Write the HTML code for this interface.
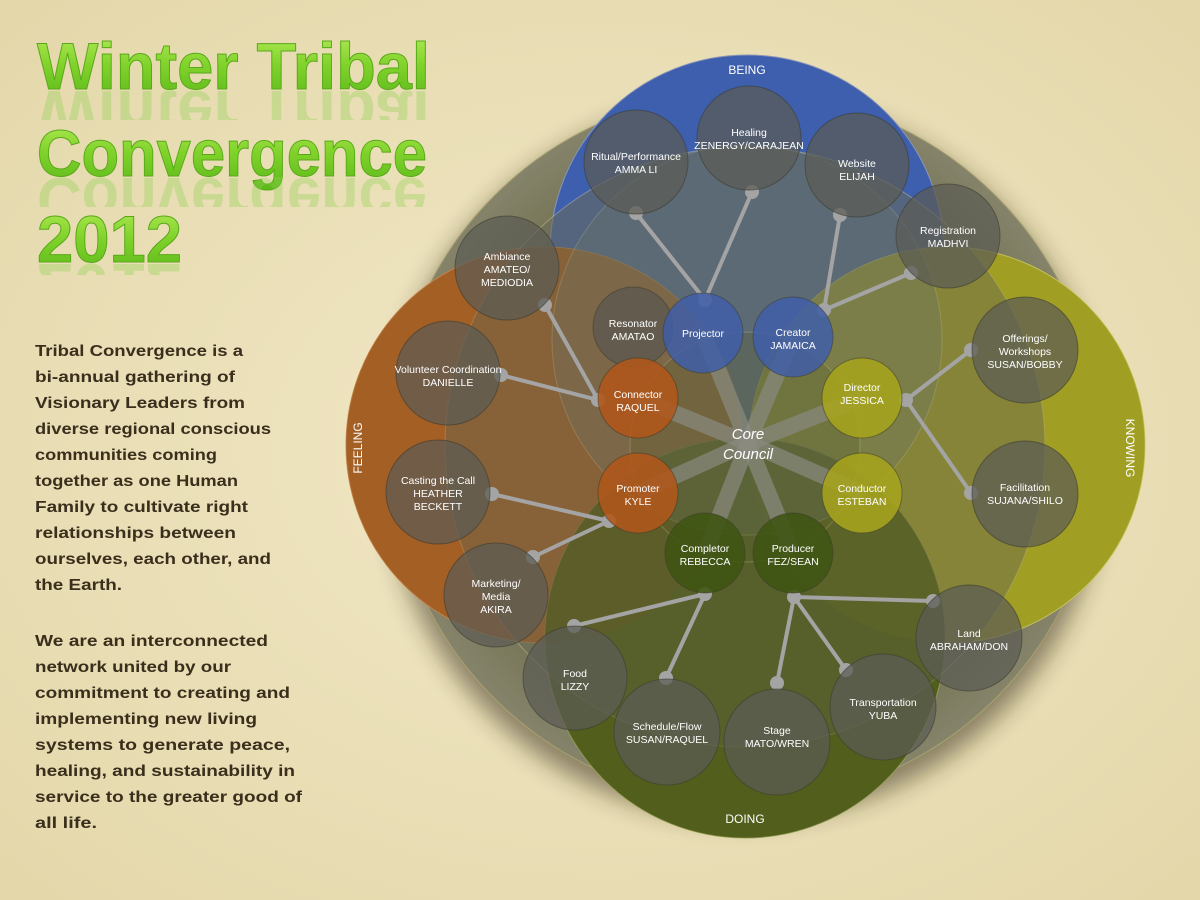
<!DOCTYPE html>
<html><head><meta charset="utf-8"><style>
html,body{margin:0;padding:0;width:1200px;height:900px;overflow:hidden;background:#ebe0b8}
svg{display:block}
</style></head><body>
<svg width="1200" height="900" viewBox="0 0 1200 900" xmlns="http://www.w3.org/2000/svg" font-family="'Liberation Sans', sans-serif">
<defs>
<radialGradient id="bg" cx="0.5" cy="0.5" r="0.75"><stop offset="0" stop-color="#f1e8c6"/><stop offset="1" stop-color="#e3d6a8"/></radialGradient>
<linearGradient id="tg" x1="0" y1="0" x2="0" y2="1"><stop offset="0" stop-color="#b6ec5a"/><stop offset="0.5" stop-color="#7fd22a"/><stop offset="1" stop-color="#5cb81a"/></linearGradient>
<filter id="sh" x="-20%" y="-20%" width="140%" height="140%"><feGaussianBlur stdDeviation="12"/></filter>
<radialGradient id="outer" cx="0.5" cy="0.5" r="0.5"><stop offset="0.7" stop-color="#6e6d4a"/><stop offset="1" stop-color="#85836a"/></radialGradient>
<linearGradient id="fade" x1="0" y1="0" x2="0" y2="1"><stop offset="0" stop-color="#fff" stop-opacity="0"/><stop offset="0.6" stop-color="#fff" stop-opacity="0"/><stop offset="1" stop-color="#fff" stop-opacity="0.5"/></linearGradient>
<mask id="m1"><rect x="0" y="90" width="450" height="30" fill="#fff" opacity="0.35"/><rect x="0" y="177" width="450" height="30" fill="#fff" opacity="0.35"/><rect x="0" y="263" width="450" height="12" fill="#fff" opacity="0.35"/></mask>
</defs>
<rect width="1200" height="900" fill="url(#bg)"/>

<!-- title -->
<g font-weight="bold" font-size="66" fill="url(#tg)" stroke="#5aa81a" stroke-width="1">
<text x="37" y="89" textLength="393" lengthAdjust="spacingAndGlyphs">Winter Tribal</text>
<text x="37" y="176" textLength="390" lengthAdjust="spacingAndGlyphs">Convergence</text>
<text x="37" y="262" textLength="145" lengthAdjust="spacingAndGlyphs">2012</text>
</g>
<g font-weight="bold" font-size="66" fill="#8fd050" mask="url(#m1)">
<text x="37" y="89" transform="translate(0,180) scale(1,-1)" textLength="393" lengthAdjust="spacingAndGlyphs">Winter Tribal</text>
<text x="37" y="176" transform="translate(0,354) scale(1,-1)" textLength="390" lengthAdjust="spacingAndGlyphs">Convergence</text>
<text x="37" y="262" transform="translate(0,526) scale(1,-1)" textLength="145" lengthAdjust="spacingAndGlyphs">2012</text>
</g>

<!-- paragraph -->
<g font-weight="bold" font-size="16" fill="#3a2e1c" lengthAdjust="spacingAndGlyphs">
<text x="35" y="356" textLength="208" lengthAdjust="spacingAndGlyphs">Tribal Convergence is a</text>
<text x="35" y="382" textLength="200" lengthAdjust="spacingAndGlyphs">bi-annual gathering of</text>
<text x="35" y="408" textLength="210" lengthAdjust="spacingAndGlyphs">Visionary Leaders from</text>
<text x="35" y="434" textLength="236" lengthAdjust="spacingAndGlyphs">diverse regional conscious</text>
<text x="35" y="460" textLength="182" lengthAdjust="spacingAndGlyphs">communities coming</text>
<text x="35" y="486" textLength="203" lengthAdjust="spacingAndGlyphs">together as one Human</text>
<text x="35" y="512" textLength="213" lengthAdjust="spacingAndGlyphs">Family to cultivate right</text>
<text x="35" y="538" textLength="201" lengthAdjust="spacingAndGlyphs">relationships between</text>
<text x="35" y="564" textLength="236" lengthAdjust="spacingAndGlyphs">ourselves, each other, and</text>
<text x="35" y="590" textLength="87" lengthAdjust="spacingAndGlyphs">the Earth.</text>
<text x="35" y="646" textLength="233" lengthAdjust="spacingAndGlyphs">We are an interconnected</text>
<text x="35" y="672" textLength="196" lengthAdjust="spacingAndGlyphs">network united by our</text>
<text x="35" y="698" textLength="255" lengthAdjust="spacingAndGlyphs">commitment to creating and</text>
<text x="35" y="724" textLength="222" lengthAdjust="spacingAndGlyphs">implementing new living</text>
<text x="35" y="750" textLength="255" lengthAdjust="spacingAndGlyphs">systems to generate peace,</text>
<text x="35" y="776" textLength="260" lengthAdjust="spacingAndGlyphs">healing, and sustainability in</text>
<text x="35" y="802" textLength="267" lengthAdjust="spacingAndGlyphs">service to the greater good of</text>
<text x="35" y="828" textLength="62" lengthAdjust="spacingAndGlyphs">all life.</text>
</g>

<!-- shadow -->
<circle cx="745" cy="460" r="360" fill="#2a2410" opacity="0.5" filter="url(#sh)"/>
<!-- outer circle -->
<circle cx="745" cy="447" r="355" fill="url(#outer)" stroke="#a7a070" stroke-width="1"/>

<!-- four domain circles -->
<circle cx="747" cy="252" r="197" fill="#3d5fae" stroke="#8a94b8"/>
<circle cx="544" cy="445" r="198" fill="#c0631e" stroke="#d08a50"/>
<circle cx="947" cy="445" r="198" fill="#b2ae20" stroke="#d0cc60"/>
<circle cx="745" cy="638" r="200" fill="#56631c" stroke="#a0a860"/>

<!-- translucent overlays -->
<circle cx="745" cy="447" r="300" fill="#6a6b58" opacity="0.55" stroke="#bdb88a"/>
<circle cx="544" cy="445" r="198" fill="#7a5a30" opacity="0.4"/>
<circle cx="947" cy="445" r="198" fill="#7a7a30" opacity="0.3"/>
<circle cx="745" cy="638" r="200" fill="#4e5a1a" opacity="0.5"/>
<circle cx="747" cy="340" r="195" fill="#6a7468" opacity="0.35" stroke="#b0ae88"/>
<circle cx="745" cy="447" r="115" fill="#58602a" opacity="0.3" stroke="#bdb070" stroke-width="1.2"/>

<!-- labels -->
<g fill="#fff" font-size="12" text-anchor="middle">
<text x="747" y="74">BEING</text>
<text x="745" y="823">DOING</text>
<text transform="translate(362,448) rotate(-90)">FEELING</text>
<text transform="translate(1126,448) rotate(90)">KNOWING</text>
</g>

<!-- thin connectors -->
<g stroke="#a4a4a4" stroke-width="4" fill="#a4a4a4" stroke-linecap="round">
<line x1="636" y1="213" x2="705" y2="300"/><circle cx="636" cy="213" r="5"/>
<line x1="752" y1="192" x2="705" y2="300"/><circle cx="752" cy="192" r="5"/>
<line x1="840" y1="215" x2="824" y2="310"/><circle cx="840" cy="215" r="5"/>
<line x1="911" y1="273" x2="824" y2="310"/><circle cx="911" cy="273" r="5"/>
<circle cx="705" cy="300" r="5"/><circle cx="824" cy="310" r="5"/>
<line x1="545" y1="305" x2="598" y2="400"/><circle cx="545" cy="305" r="5"/>
<line x1="501" y1="375" x2="598" y2="400"/><circle cx="501" cy="375" r="5"/>
<circle cx="598" cy="400" r="5"/>
<line x1="492" y1="494" x2="609" y2="521"/><circle cx="492" cy="494" r="5"/>
<line x1="533" y1="557" x2="609" y2="521"/><circle cx="533" cy="557" r="5"/>
<circle cx="609" cy="521" r="5"/>
<line x1="574" y1="626" x2="705" y2="594"/><circle cx="574" cy="626" r="5"/>
<line x1="666" y1="678" x2="705" y2="594"/><circle cx="666" cy="678" r="5"/>
<circle cx="705" cy="594" r="5"/>
<line x1="777" y1="683" x2="794" y2="597"/><circle cx="777" cy="683" r="5"/>
<line x1="846" y1="670" x2="794" y2="597"/><circle cx="846" cy="670" r="5"/>
<line x1="933" y1="601" x2="794" y2="597"/><circle cx="933" cy="601" r="5"/>
<circle cx="794" cy="597" r="5"/>
<line x1="971" y1="350" x2="906" y2="400"/><circle cx="971" cy="350" r="5"/>
<line x1="971" y1="493" x2="906" y2="400"/><circle cx="971" cy="493" r="5"/>
<circle cx="906" cy="400" r="5"/>
</g>

<!-- outer nodes -->
<g fill="#5c5c55" fill-opacity="0.72" stroke="#3c3c30" stroke-opacity="0.6">
<circle cx="636" cy="162" r="52"/>
<circle cx="749" cy="138" r="52"/>
<circle cx="857" cy="165" r="52"/>
<circle cx="948" cy="236" r="52"/>
<circle cx="507" cy="268" r="52"/>
<circle cx="448" cy="373" r="52"/>
<circle cx="438" cy="492" r="52"/>
<circle cx="496" cy="595" r="52"/>
<circle cx="575" cy="678" r="52"/>
<circle cx="667" cy="732" r="53"/>
<circle cx="777" cy="742" r="53"/>
<circle cx="883" cy="707" r="53"/>
<circle cx="969" cy="638" r="53"/>
<circle cx="1025" cy="494" r="53"/>
<circle cx="1025" cy="350" r="53"/>
</g>

<!-- spokes -->
<g stroke="#8a8a80" stroke-opacity="0.7" stroke-width="16">
<line x1="748" y1="443" x2="703" y2="333"/>
<line x1="748" y1="443" x2="793" y2="337"/>
<line x1="748" y1="443" x2="862" y2="398"/>
<line x1="748" y1="443" x2="862" y2="493"/>
<line x1="748" y1="443" x2="793" y2="553"/>
<line x1="748" y1="443" x2="705" y2="553"/>
<line x1="748" y1="443" x2="638" y2="493"/>
<line x1="748" y1="443" x2="638" y2="398"/>
</g>

<!-- inner nodes -->
<g stroke="#3a3a2a" stroke-opacity="0.5">
<circle cx="633" cy="327" r="40" fill="#5e5a4e" fill-opacity="0.88"/>
<circle cx="703" cy="333" r="40" fill="#3f5ea8" fill-opacity="0.85"/>
<circle cx="793" cy="337" r="40" fill="#3f5ea8" fill-opacity="0.85"/>
<circle cx="862" cy="398" r="40" fill="#a6a41c" fill-opacity="0.88"/>
<circle cx="862" cy="493" r="40" fill="#a6a41c" fill-opacity="0.88"/>
<circle cx="793" cy="553" r="40" fill="#3f5412" fill-opacity="0.88"/>
<circle cx="705" cy="553" r="40" fill="#3f5412" fill-opacity="0.88"/>
<circle cx="638" cy="493" r="40" fill="#b0561a" fill-opacity="0.88"/>
<circle cx="638" cy="398" r="40" fill="#b0561a" fill-opacity="0.88"/>
</g>

<!-- node text -->
<g fill="#fff" font-size="10.5" text-anchor="middle">
<text x="636" y="160">Ritual/Performance</text><text x="636" y="173">AMMA LI</text>
<text x="749" y="136">Healing</text><text x="749" y="149">ZENERGY/CARAJEAN</text>
<text x="857" y="167">Website</text><text x="857" y="180">ELIJAH</text>
<text x="948" y="234">Registration</text><text x="948" y="247">MADHVI</text>
<text x="507" y="260">Ambiance</text><text x="507" y="273">AMATEO/</text><text x="507" y="286">MEDIODIA</text>
<text x="448" y="373">Volunteer Coordination</text><text x="448" y="386">DANIELLE</text>
<text x="438" y="484">Casting the Call</text><text x="438" y="497">HEATHER</text><text x="438" y="510">BECKETT</text>
<text x="496" y="587">Marketing/</text><text x="496" y="600">Media</text><text x="496" y="613">AKIRA</text>
<text x="575" y="677">Food</text><text x="575" y="690">LIZZY</text>
<text x="667" y="730">Schedule/Flow</text><text x="667" y="743">SUSAN/RAQUEL</text>
<text x="777" y="734">Stage</text><text x="777" y="747">MATO/WREN</text>
<text x="883" y="706">Transportation</text><text x="883" y="719">YUBA</text>
<text x="969" y="637">Land</text><text x="969" y="650">ABRAHAM/DON</text>
<text x="1025" y="491">Facilitation</text><text x="1025" y="504">SUJANA/SHILO</text>
<text x="1025" y="342">Offerings/</text><text x="1025" y="355">Workshops</text><text x="1025" y="368">SUSAN/BOBBY</text>
<text x="633" y="327">Resonator</text><text x="633" y="340">AMATAO</text>
<text x="703" y="337">Projector</text>
<text x="793" y="336">Creator</text><text x="793" y="349">JAMAICA</text>
<text x="862" y="391">Director</text><text x="862" y="404">JESSICA</text>
<text x="862" y="492">Conductor</text><text x="862" y="505">ESTEBAN</text>
<text x="793" y="552">Producer</text><text x="793" y="565">FEZ/SEAN</text>
<text x="705" y="552">Completor</text><text x="705" y="565">REBECCA</text>
<text x="638" y="492">Promoter</text><text x="638" y="505">KYLE</text>
<text x="638" y="398">Connector</text><text x="638" y="411">RAQUEL</text>
</g>
<g fill="#fff" font-size="15" font-style="italic" text-anchor="middle">
<text x="748" y="439">Core</text><text x="748" y="459">Council</text>
</g>
</svg>
</body></html>
